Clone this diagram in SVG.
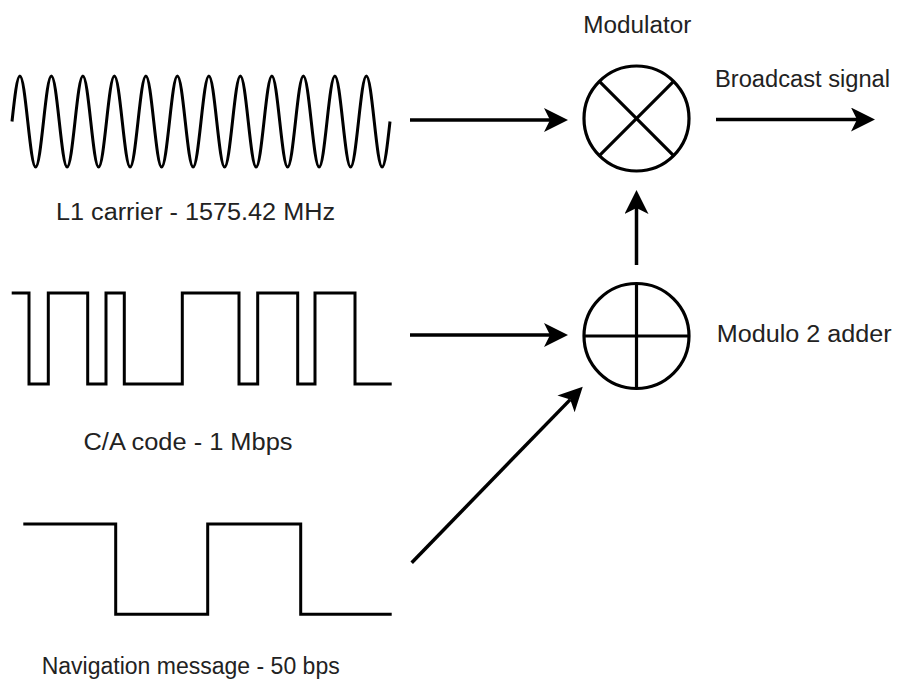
<svg xmlns="http://www.w3.org/2000/svg" width="897" height="682" viewBox="0 0 897 682">
<style>
.w{fill:none;stroke:#000;stroke-width:3;stroke-linejoin:miter}
.c{fill:none;stroke:#000;stroke-width:3.2}
.t{font-family:"Liberation Sans",Arial,sans-serif;font-size:23px;fill:#222;text-anchor:start}
.a{fill:none;stroke:#000;stroke-width:3.5}
</style>
<defs>
<marker id="ah" markerUnits="userSpaceOnUse" markerWidth="26" markerHeight="26" refX="6" refY="12" orient="auto" viewBox="0 0 26 26">
<path d="M0,0 L24,12 L0,24 L6,12 Z" fill="#000"/>
</marker>
</defs>
<rect width="897" height="682" fill="#fff"/>
<g id="l1-carrier">
<path class="w" d="M12,121.5 c2.63,-23.9 5.04,-45.5 7.875,-45.5
s5.245,21.6 7.875,45.5 s5.04,45.5 7.875,45.5 s5.245,-21.6 7.875,-45.5 s5.04,-45.5 7.875,-45.5
s5.245,21.6 7.875,45.5 s5.04,45.5 7.875,45.5 s5.245,-21.6 7.875,-45.5 s5.04,-45.5 7.875,-45.5
s5.245,21.6 7.875,45.5 s5.04,45.5 7.875,45.5 s5.245,-21.6 7.875,-45.5 s5.04,-45.5 7.875,-45.5
s5.245,21.6 7.875,45.5 s5.04,45.5 7.875,45.5 s5.245,-21.6 7.875,-45.5 s5.04,-45.5 7.875,-45.5
s5.245,21.6 7.875,45.5 s5.04,45.5 7.875,45.5 s5.245,-21.6 7.875,-45.5 s5.04,-45.5 7.875,-45.5
s5.245,21.6 7.875,45.5 s5.04,45.5 7.875,45.5 s5.245,-21.6 7.875,-45.5 s5.04,-45.5 7.875,-45.5
s5.245,21.6 7.875,45.5 s5.04,45.5 7.875,45.5 s5.245,-21.6 7.875,-45.5 s5.04,-45.5 7.875,-45.5
s5.245,21.6 7.875,45.5 s5.04,45.5 7.875,45.5 s5.245,-21.6 7.875,-45.5 s5.04,-45.5 7.875,-45.5
s5.245,21.6 7.875,45.5 s5.04,45.5 7.875,45.5 s5.245,-21.6 7.875,-45.5 s5.04,-45.5 7.875,-45.5
s5.245,21.6 7.875,45.5 s5.04,45.5 7.875,45.5 s5.245,-21.6 7.875,-45.5 s5.04,-45.5 7.875,-45.5
s5.245,21.6 7.875,45.5 s5.04,45.5 7.875,45.5 s5.245,-21.6 7.875,-45.5 s5.04,-45.5 7.875,-45.5
s5.245,21.6 7.875,45.5 s5.04,45.5 7.875,45.5 s5.245,-21.6 7.875,-45.5"/>
<text class="t" x="56" y="219.5" textLength="279" lengthAdjust="spacingAndGlyphs">L1 carrier - 1575.42 MHz</text>
</g>
<g id="ca-code">
<path class="w" d="M11.7,293 H29 V384 H48.3 V293 H87.7 V384 H106 V293 H124.3 V384 H182.3 V293 H239 V384 H257.7 V293 H297.7 V384 H315 V293 H355 V384 H391.7"/>
<text class="t" x="83.5" y="449.5" textLength="209" lengthAdjust="spacingAndGlyphs">C/A code - 1 Mbps</text>
</g>
<g id="nav-message">
<path class="w" d="M23.3,524 H115.7 V614.3 H207.7 V524 H300.7 V614.3 H391.7"/>
<text class="t" x="41.7" y="673.5" textLength="298" lengthAdjust="spacingAndGlyphs">Navigation message - 50 bps</text>
</g>
<g id="modulator">
<circle class="c" cx="636.5" cy="118.5" r="52.5"/>
<line class="c" x1="599.4" y1="81.4" x2="673.6" y2="155.6"/>
<line class="c" x1="673.6" y1="81.4" x2="599.4" y2="155.6"/>
<text class="t" x="583.3" y="33.3" textLength="108" lengthAdjust="spacingAndGlyphs">Modulator</text>
</g>
<g id="adder">
<circle class="c" cx="636.5" cy="336" r="52.5"/>
<line class="c" x1="584" y1="336" x2="689" y2="336"/>
<line class="c" x1="636.5" y1="283.5" x2="636.5" y2="388.5"/>
<text class="t" x="716.7" y="341.7" textLength="175" lengthAdjust="spacingAndGlyphs">Modulo 2 adder</text>
</g>
<g id="output">
<text class="t" x="715" y="87.3" textLength="175" lengthAdjust="spacingAndGlyphs">Broadcast signal</text>
</g>
<g id="connectors">
<line class="a" x1="410" y1="120" x2="550" y2="120" marker-end="url(#ah)"/>
<line class="a" x1="410" y1="335" x2="550" y2="335" marker-end="url(#ah)"/>
<line class="a" x1="411.7" y1="562.7" x2="570.2" y2="399.6" marker-end="url(#ah)"/>
<line class="a" x1="636.5" y1="265" x2="636.5" y2="208" marker-end="url(#ah)"/>
<line class="a" x1="716" y1="119.5" x2="857" y2="119.5" marker-end="url(#ah)"/>
</g>
</svg>
